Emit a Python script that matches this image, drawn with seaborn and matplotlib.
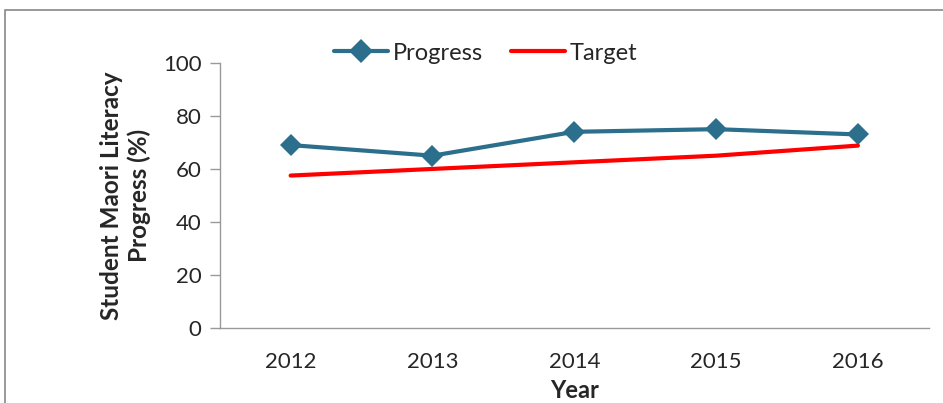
import numpy as np
import pandas as pd
import seaborn as sns
import matplotlib
matplotlib.use("Agg")
from matplotlib import pyplot as plt
from matplotlib.patches import Rectangle

# data
years = ["2012", "2013", "2014", "2015", "2016"]
progress = [69, 65, 74, 75, 73]
target = [57.5, 60, 62.5, 65, 68.8]

df = pd.DataFrame({"pos": np.arange(len(years)), "Progress": progress, "Target": target})

sns.set_style("white")
plt.rcParams['font.family'] = ['Lato', 'DejaVu Sans']

fig = plt.figure(figsize=(9.43, 4.03), dpi=100)
ax = fig.add_axes([0.233, 0.186, 0.752, 0.658])

sns.lineplot(x="pos", y="Progress", data=df, ax=ax, color="#2B6F8C", lw=3,
             marker="D", markersize=11, markeredgewidth=0, label="Progress")
sns.lineplot(x="pos", y="Target", data=df, ax=ax, color="#FF0000", lw=3, label="Target")

ax.set_xlim(-0.5, len(years) - 0.5)
ax.set_ylim(0, 100)
ax.set_yticks(range(0, 101, 20))
ax.set_xticks(np.arange(len(years)))
ax.set_xticklabels(years)
ax.set_xticks(np.arange(len(years) + 1) - 0.5, minor=True)
ax.tick_params(axis="x", which="major", length=0, pad=17, labelsize=16)
ax.tick_params(axis="x", which="minor", length=7, color="#999999", width=1)
ax.tick_params(axis="y", length=7, color="#999999", width=1, labelsize=16, pad=6, left=True)

for s in ["top", "right"]:
    ax.spines[s].set_visible(False)
for s in ["left", "bottom"]:
    ax.spines[s].set_color("#999999")
    ax.spines[s].set_linewidth(1)

ax.set_xlabel("Year", fontsize=17, fontweight="bold", labelpad=5)
ax.set_ylabel("Student Maori Literacy\nProgress (%)", fontsize=17.5, fontweight="bold",
              labelpad=9)

ax.legend(loc="center", bbox_to_anchor=(0.515, 0.868), bbox_transform=fig.transFigure,
          ncol=2, frameon=False, fontsize=17, handlelength=2.3, columnspacing=1.2,
          handletextpad=0.2, markerscale=1.1)

# outer chart border
fig.patches.append(Rectangle((5 / 943, -0.1), 1.0, 1 - 10 / 403 + 0.1, transform=fig.transFigure,
                             fill=False, edgecolor="#888888", lw=1.2))

fig.savefig("out.png", dpi=100)
